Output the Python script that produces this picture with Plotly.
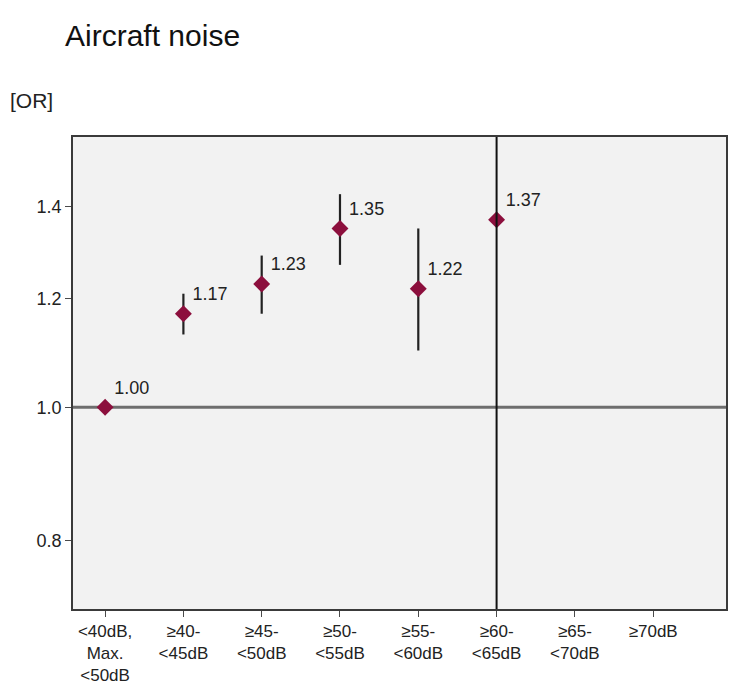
import math
import plotly.graph_objects as go

# Noise exposure bands (x axis) and odds ratios with 95% CI
categories = [
    "<40dB,<br>Max.<br><50dB",
    "≥40-<br><45dB",
    "≥45-<br><50dB",
    "≥50-<br><55dB",
    "≥55-<br><60dB",
    "≥60-<br><65dB",
    "≥65-<br><70dB",
    "≥70dB",
]
or_categories = categories[:6]
odds_ratio = [1.00, 1.17, 1.23, 1.35, 1.22, 1.37]
ci_lower = [1.00, 1.13, 1.17, 1.27, 1.10, None]
ci_upper = [1.00, 1.21, 1.29, 1.43, 1.35, None]
y_ticks = [0.8, 1.0, 1.2, 1.4]
y_tick_labels = ["0.8", "1.0", "1.2", "1.4"]
reference_or = 1.0

FONT = "Arial, 'Liberation Sans', sans-serif"
MARKER = "#8c0f3d"
Y_RANGE = [-0.147, 0.197]  # log10 units

err_plus = [(u - v) if u is not None else 0 for u, v in zip(ci_upper, odds_ratio)]
err_minus = [(v - l) if l is not None else 0 for l, v in zip(ci_lower, odds_ratio)]

fig = go.Figure()

fig.add_trace(go.Scatter(
    x=or_categories,
    y=odds_ratio,
    mode="markers+text",
    marker=dict(symbol="diamond", size=13, color=MARKER),
    error_y=dict(type="data", symmetric=False, array=err_plus,
                 arrayminus=err_minus, color="#222222", thickness=2.2, width=0),
    text=[f"{v:.2f}" for v in odds_ratio],
    textposition="top right",
    textfont=dict(family=FONT, size=18, color="#222222"),
    cliponaxis=False,
    showlegend=False,
))

# reference line at OR = 1, placed by its fraction of the log axis range
ref_frac = (math.log10(reference_or) - Y_RANGE[0]) / (Y_RANGE[1] - Y_RANGE[0])
fig.add_shape(type="line", xref="paper", x0=0, x1=1,
              yref="paper", y0=ref_frac, y1=ref_frac,
              line=dict(color="#6e6e6e", width=3), layer="below")
# divider at the ≥60-<65dB band
fig.add_shape(type="line", xref="x", x0=5, x1=5,
              yref="paper", y0=0, y1=1,
              line=dict(color="#111111", width=2), layer="above")

fig.update_layout(
    width=736, height=693,
    margin=dict(l=73, r=8, t=137, b=83),
    paper_bgcolor="white",
    plot_bgcolor="#f2f2f2",
    font=dict(family=FONT, color="#222222"),
    title=dict(text="Aircraft noise", x=65 / 736, xanchor="left",
               y=1 - 35 / 693, yanchor="middle",
               font=dict(family=FONT, size=30, color="#111111")),
    annotations=[dict(text="[OR]", xref="paper", yref="paper",
                      x=(8 - 73) / 655, y=(610 - 100) / 473,
                      xanchor="left", yanchor="middle", showarrow=False,
                      font=dict(family=FONT, size=21, color="#222222"))],
)

fig.update_xaxes(
    type="category",
    categoryorder="array", categoryarray=categories,
    tickvals=categories, ticktext=categories,
    range=[-0.41, 7.93],
    showgrid=False, zeroline=False,
    showline=True, linecolor="#3a3a3a", linewidth=1.5, mirror=True,
    ticks="outside", ticklen=6, tickcolor="#4a4a4a",
    tickfont=dict(family=FONT, size=17, color="#222222"),
)
fig.update_yaxes(
    type="log",
    range=Y_RANGE,
    tickvals=y_ticks, ticktext=y_tick_labels,
    showgrid=False, zeroline=False,
    showline=True, linecolor="#3a3a3a", linewidth=1.5, mirror=True,
    ticks="outside", ticklen=6, tickcolor="#4a4a4a",
    tickfont=dict(family=FONT, size=18, color="#222222"),
)

fig.write_html("out.html")
